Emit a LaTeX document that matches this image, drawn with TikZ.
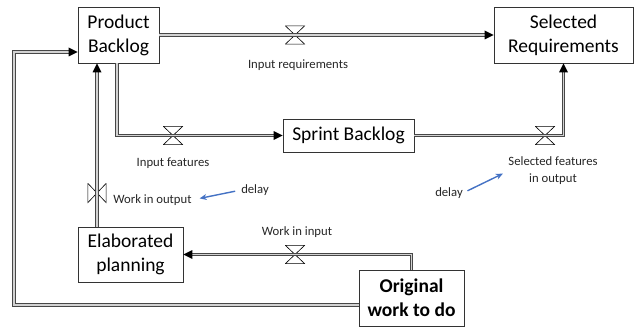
\documentclass[tikz,border=0pt]{standalone}
\usepackage{fontspec}
\setmainfont{Carlito}
\usepackage{xcolor}
\definecolor{delayblue}{HTML}{4472C4}
\usepackage{tikz}
\usetikzlibrary{arrows.meta}
\usetikzlibrary{decorations.markings}
\usetikzlibrary{positioning}
\tikzstyle{stock} = [rectangle, draw=black!80, line width=0.6pt, align=center,
    font=\fontsize{19.5}{24}\selectfont, inner sep=0pt]
\tikzstyle{pipe} = [draw=black!72, double=gray!35, double distance=1.6pt, line width=1pt]
% solid head at the end of a pipe
\tikzstyle{flow} = [pipe, shorten >=4pt, postaction={decorate, decoration={markings,
    mark=at position 1 with {\fill[black] (0,0) -- (-9pt,4.5pt) -- (-9pt,-4.5pt) -- cycle;}}}]
\tikzstyle{flowlabel} = [text=black!85, font=\fontsize{12.7}{17}\selectfont, align=center, inner sep=0pt]
\tikzstyle{delayarrow} = [draw=delayblue, line width=1.4pt, -{Stealth[length=7pt,width=6pt]}]
% hourglass valve on a horizontal pipe, bow tie on a vertical one
\tikzstyle{valve} = [minimum width=20pt, minimum height=19pt, inner sep=0pt, outer sep=0pt,
    path picture={\draw[line width=0.6pt]
        ([shift={(.4pt,-.4pt)}]path picture bounding box.north west) --
        ([shift={(-.4pt,.4pt)}]path picture bounding box.south east) --
        ([shift={(.4pt,.4pt)}]path picture bounding box.south west) --
        ([shift={(-.4pt,-.4pt)}]path picture bounding box.north east) -- cycle;}]
\tikzstyle{svalve} = [minimum width=19pt, minimum height=20pt, inner sep=0pt, outer sep=0pt,
    path picture={\draw[line width=0.6pt]
        ([shift={(.4pt,-.4pt)}]path picture bounding box.north west) --
        ([shift={(-.4pt,.4pt)}]path picture bounding box.south east) --
        ([shift={(-.4pt,-.4pt)}]path picture bounding box.north east) --
        ([shift={(.4pt,.4pt)}]path picture bounding box.south west) -- cycle;}]

\begin{document}
\begin{tikzpicture}[x=1pt,y=-1pt]
    \useasboundingbox (0,0) rectangle (634,329);
    % Place nodes
    \node [stock, minimum width=81pt, minimum height=56pt] (pb) at (118.5,35) {Product\\Backlog};
    \node [stock, minimum width=139pt, minimum height=56pt] (sr) at (563.5,35) {Selected\\Requirements};
    \node [stock, minimum width=131pt, minimum height=33pt] (sb) at (348.5,135.5) {Sprint Backlog};
    \node [stock, minimum width=105pt, minimum height=55pt] (ep) at (130.5,254.5) {Elaborated\\planning};
    \node [stock, minimum width=105pt, minimum height=56pt, font=\fontsize{19.5}{24}\selectfont\bfseries] (ow) at (411.5,298) {Original\\work to do};

    % valves
    \node [valve] (v1) at (295,35) {};
    \node [valve] (v2) at (173,135.5) {};
    \node [valve] (v3) at (545,135.5) {};
    \node [svalve] (v4) at (97,193) {};
    \node [valve] (v5) at (295,254.5) {};

    % flow names
    \node [flowlabel] (l1) at (298,65) {Input requirements};
    \node [flowlabel] (l2) at (173,163) {Input features};
    \node [flowlabel] (l3) at (553,171) {Selected features\\in output};
    \node [flowlabel] (l4) at (152.5,200) {Work in output};
    \node [flowlabel] (l5) at (297,232) {Work in input};
    \node [flowlabel] (d1) at (255,190) {delay};
    \node [flowlabel] (d2) at (449,193) {delay};

    % Draw edges
    \draw [flow] (pb.east) -- (sr.west);
    \draw [flow] ([xshift=-1.5pt]pb.south) |- (sb.west);
    \draw [flow] (sb.east) -| (sr.south);
    \draw [flow] (ep.north -| v4) -- (pb.south -| v4);
    \draw [flow] (ow.north) |- (ep.east);
    \draw [flow] ([yshift=-7pt]ow.west) -- ++(-345,0) |- ([yshift=-17pt]pb.west);

    \draw [delayarrow, shorten <=6pt, shorten >=8pt] (d1.west) -- (l4.east);
    \draw [delayarrow, shorten <=5pt, shorten >=6pt] (d2.east) -- (l3.west);
\end{tikzpicture}
\end{document}
